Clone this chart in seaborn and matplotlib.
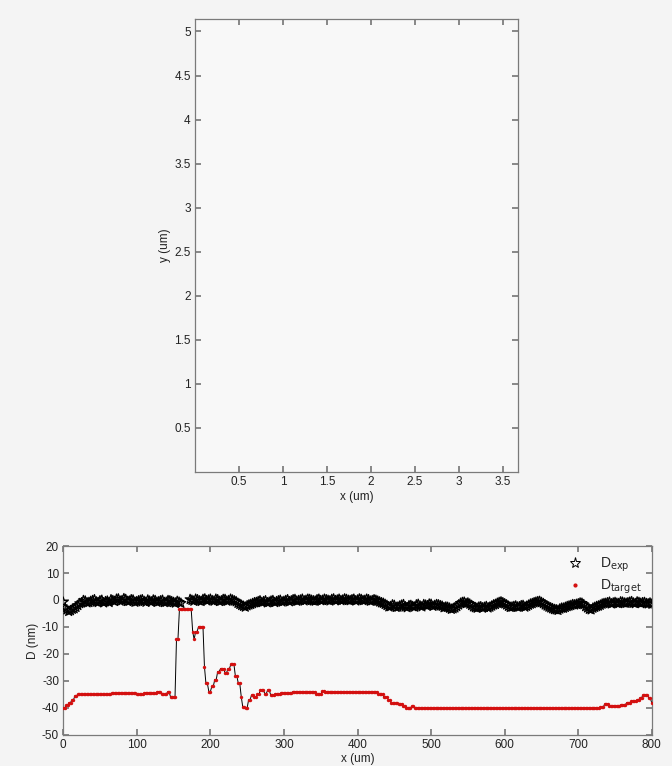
import numpy as np
import pandas as pd
import matplotlib
matplotlib.use("Agg")
import matplotlib.pyplot as plt
import seaborn as sns
from matplotlib.ticker import FuncFormatter
from matplotlib.lines import Line2D

# ---------------- data ----------------
top_xticks = [0.5, 1, 1.5, 2, 2.5, 3, 3.5]
top_yticks = [0.5, 1, 1.5, 2, 2.5, 3, 3.5, 4, 4.5, 5]

bot_xticks = [0, 100, 200, 300, 400, 500, 600, 700, 800]
bot_yticks = [-50, -40, -30, -20, -10, 0, 10, 20]

# measured deviation, samples at x = 0, 5, ..., 800
exp_step = 5
d_exp = [
    -0.8, -3.6, -3.9, -3.2, -2.0, -1.0, -0.4, -0.9, -0.2, -0.7,
    -0.3, -1.0, -0.4, 0.1, -0.5, 0.4, -0.2, 0.2, -0.4, 0.0,
    -0.6, -0.1, -0.5, 0.0, -0.7, -0.2, -0.6, -0.1, -0.8, -0.3,
    -0.9, -0.5, -1.2, np.nan, np.nan, -0.1, 0.3, -0.3, 0.2, -0.2,
    0.3, -0.4, 0.1, -0.3, 0.2, -0.2, 0.0, -0.6, -1.6, -2.3,
    -2.1, -1.6, -1.0, -0.6, -0.9, -0.3, -0.8, -0.2, -0.6, -0.1,
    -0.5, 0.1, -0.3, 0.2, -0.2, 0.3, -0.1, 0.2, -0.3, 0.1,
    -0.2, 0.3, -0.1, 0.2, -0.2, 0.3, 0.0, 0.2, -0.2, 0.3,
    0.0, 0.2, -0.1, 0.1, -0.2, -0.1, -0.7, -1.2, -2.0, -2.4,
    -2.0, -2.6, -1.9, -2.5, -2.1, -2.4, -1.8, -2.2, -1.7, -2.1,
    -1.6, -2.0, -1.8, -2.3, -2.6, -3.0, -3.2, -2.4, -1.2, -0.8,
    -1.1, -2.0, -2.8, -2.6, -2.9, -2.4, -2.6, -1.8, -1.2, -0.7,
    -1.4, -2.3, -2.6, -2.2, -2.5, -2.0, -2.3, -1.5, -1.0, -0.6,
    -0.9, -1.8, -2.6, -3.2, -3.6, -3.3, -3.0, -2.4, -2.0, -1.8,
    -1.4, -1.2, -2.4, -3.4, -3.0, -2.4, -1.9, -1.3, -1.0, -1.4,
    -0.9, -1.3, -0.8, -1.2, -0.8, -1.1, -0.7, -1.2, -0.9, -1.4,
    -1.5,
]
# measured deviation, samples at x = 2.5, 7.5, ..., 797.5
d_exp_mid = [
    -3.0, -4.2, -3.4, -2.7, -1.3, -0.2, -1.0, -0.5, 0.1, -0.9,
    -0.1, -0.6, -0.9, -0.2, 0.3, -0.4, 0.5, -0.5, 0.1, -0.8,
    -0.3, 0.1, -0.8, -0.4, 0.0, -0.8, -0.3, -0.9, -0.2, -0.6,
    -1.1, -0.8, np.nan, np.nan, 0.2, -0.4, 0.1, -0.5, 0.4, 0.0,
    -0.2, 0.3, -0.5, 0.2, -0.4, 0.3, -0.3, -1.2, -2.0, -2.6,
    -1.8, -1.3, -0.9, -0.3, -0.6, -1.0, -0.4, -0.9, -0.3, -0.7,
    -0.2, -0.6, 0.1, -0.4, 0.0, -0.3, 0.3, -0.1, -0.4, 0.3,
    -0.1, 0.1, -0.3, 0.4, 0.0, -0.2, 0.4, -0.1, 0.1, -0.3,
    0.4, -0.2, 0.3, -0.4, 0.1, -0.4, -1.0, -1.6, -2.5, -1.8,
    -2.7, -2.2, -1.7, -2.8, -2.0, -2.6, -1.6, -2.5, -1.9, -1.5,
    -2.3, -1.7, -2.1, -2.8, -2.7, -3.4, -2.9, -1.8, -0.9, -1.3,
    -1.5, -2.5, -3.0, -2.5, -2.7, -2.9, -2.2, -1.6, -0.9, -1.0,
    -1.8, -2.7, -2.4, -2.6, -2.1, -2.6, -1.9, -1.3, -0.8, -0.5,
    -1.3, -2.2, -2.9, -3.5, -3.8, -3.0, -2.7, -2.2, -1.7, -1.6,
    -1.1, -1.7, -2.9, -3.6, -2.7, -2.2, -1.5, -1.2, -0.8, -1.1,
    -1.2, -0.7, -1.1, -1.0, -0.6, -1.3, -0.9, -1.0, -1.3, -1.1,
]

# target deviation: step profile (breakpoint x, level)
target_x = [0, 4, 8, 12, 16, 20, 65, 100, 110, 127, 133, 142, 146,
            154, 158, 176, 178, 180, 183, 191, 194, 197, 202, 206, 210,
            214, 220, 224, 228, 233, 237, 241, 244, 248, 252, 255, 259,
            264, 268, 273, 277, 282, 287, 296, 312, 344, 351, 356, 428,
            435, 441, 446, 455, 462, 465, 473, 477, 730, 736, 741, 752,
            758, 766, 772, 779, 784, 788, 795, 799]
target_y = [-40, -39, -38, -37, -35.5, -35, -34.5, -35, -34.5, -34, -35, -34, -36,
            -14.5, -3.5, -11.7, -14.6, -11.7, -9.9, -24.7, -30.9, -34, -32, -29.5, -26.5,
            -25.4, -27, -25.4, -23.7, -28.1, -30.9, -35.8, -39.5, -40, -37, -35.2, -36,
            -35, -33.3, -34.7, -33.3, -35.2, -34.8, -34.5, -34, -35, -33.7, -34, -35,
            -36, -37, -38.3, -38.5, -39.3, -40, -39.3, -40, -39.7, -38.5, -39.2, -39.3,
            -38.8, -38, -37.5, -37, -36.2, -35.2, -36.3, -38.3]
target_step = 2

# sampled target (each sample takes the level of its step)
x_tgt = np.arange(0, 801, target_step)
idx = np.searchsorted(np.array(target_x), x_tgt, side="right") - 1
d_tgt = np.array(target_y)[idx]

x_exp = np.arange(len(d_exp)) * exp_step
x_exp_mid = np.arange(len(d_exp_mid)) * exp_step + exp_step / 2
df_exp = pd.DataFrame({"x": np.concatenate([x_exp, x_exp_mid]),
                       "D": np.concatenate([d_exp, d_exp_mid])})
df_tgt = pd.DataFrame({"x": x_tgt, "D": d_tgt})

# ---------------- style ----------------
sns.set_theme(style="ticks")
plt.rcParams["font.family"] = ["Liberation Sans", "DejaVu Sans"]
text_col = "#222222"
spine_col = "#7a7a7a"
plt.rcParams.update({
    "axes.unicode_minus": False,
    "axes.edgecolor": spine_col,
    "axes.linewidth": 0.9,
    "xtick.color": spine_col,
    "ytick.color": spine_col,
    "xtick.labelcolor": text_col,
    "ytick.labelcolor": text_col,
    "xtick.direction": "in",
    "ytick.direction": "in",
    "xtick.major.size": 4,
    "ytick.major.size": 4,
    "xtick.top": True,
    "ytick.right": True,
    "axes.labelcolor": text_col,
})

fig = plt.figure(figsize=(6.72, 7.66), dpi=100)
fig.patch.set_facecolor("#f4f4f4")

fmt = FuncFormatter(lambda v, p: ("%g" % v))

# ---- top: empty map ----
ax1 = fig.add_axes([0.290, 0.384, 0.481, 0.591])
ax1.set_facecolor("#f8f8f8")
ax1.set_xlim(0, 3.67)
ax1.set_ylim(0, 5.14)
ax1.set_xticks(top_xticks)
ax1.set_yticks(top_yticks)
ax1.xaxis.set_major_formatter(fmt)
ax1.yaxis.set_major_formatter(fmt)
ax1.tick_params(labelsize=8.5, pad=3)
ax1.set_xlabel("x (um)", fontsize=8.5, labelpad=2)
ax1.set_ylabel("y (um)", fontsize=8.5, labelpad=2)

# ---- bottom: deviation profile ----
ax2 = fig.add_axes([0.094, 0.0405, 0.876, 0.2467])
ax2.set_facecolor("#f8f8f8")
sns.lineplot(data=df_tgt, x="x", y="D", ax=ax2, color="black", lw=0.7,
             estimator=None, sort=False, legend=False)
sns.scatterplot(data=df_tgt, x="x", y="D", ax=ax2, color="#d41010", marker="o",
                s=6, linewidth=0, legend=False, zorder=3)
sns.scatterplot(data=df_exp, x="x", y="D", ax=ax2, marker="*", s=55,
                facecolor="none", edgecolor="black", linewidth=0.9,
                legend=False, zorder=4)
ax2.set_xlim(0, 800)
ax2.set_ylim(-50, 20)
ax2.set_xticks(bot_xticks)
ax2.set_yticks(bot_yticks)
ax2.tick_params(labelsize=8.5, pad=3)
ax2.set_xlabel("x (um)", fontsize=8.5, labelpad=1)
ax2.set_ylabel("D (nm)", fontsize=8.5, labelpad=2)

handles = [
    Line2D([], [], ls="none", marker="*", markersize=8, markerfacecolor="none",
           markeredgecolor="black", markeredgewidth=0.7),
    Line2D([], [], ls="none", marker="o", markersize=2, color="#d41010"),
]
ax2.legend(handles, [r"D$_{\mathrm{exp}}$", r"D$_{\mathrm{target}}$"],
           loc="upper right", frameon=False, fontsize=10, handletextpad=0.8,
           labelspacing=0.3, borderaxespad=0.3, bbox_to_anchor=(1.0, 1.0))

fig.savefig("out.png", dpi=100, facecolor=fig.get_facecolor())
